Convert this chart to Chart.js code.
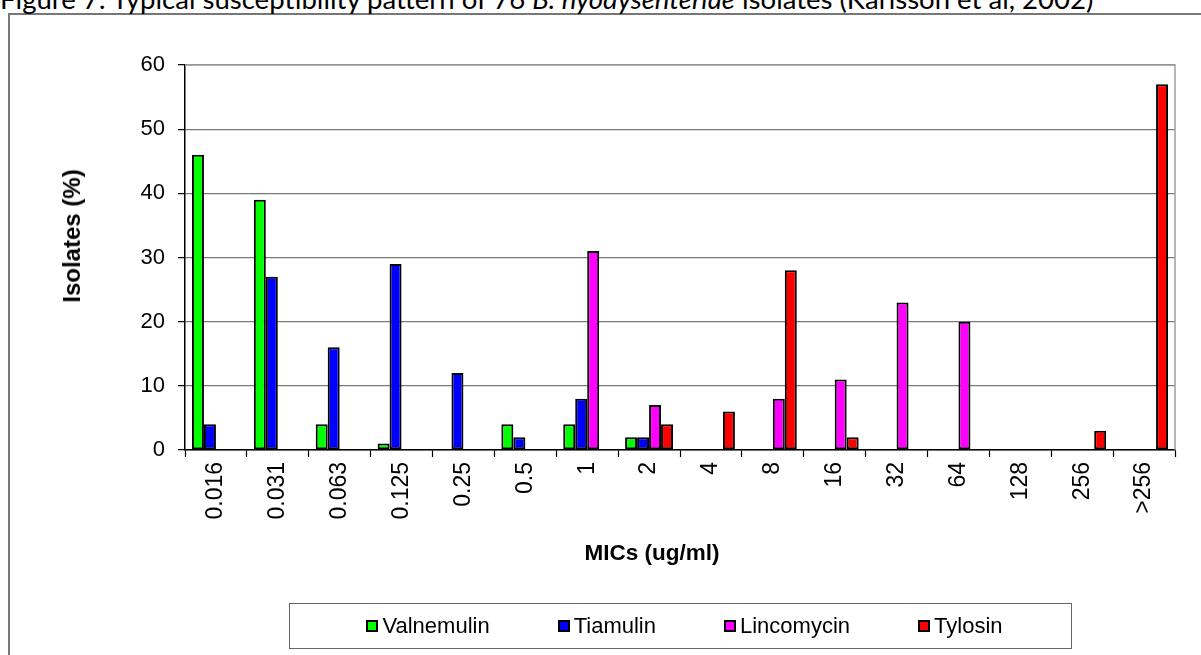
<!DOCTYPE html>
<html>
<head>
<meta charset="utf-8">
<script src="https://cdn.jsdelivr.net/npm/chart.js@4.4.1/dist/chart.umd.min.js"></script>
<style>
  html, body { margin:0; padding:0; background:#fff; width:1201px; height:655px; overflow:hidden; }
  #wrap { position:relative; width:1201px; height:655px; overflow:hidden; }
  #frame { position:absolute; left:8px; top:13px; width:1400px; height:1000px; border:2px solid #777; box-sizing:border-box; }
  #caption { position:absolute; left:0px; top:-12px; white-space:nowrap; font-family:Lato, 'Open Sans', sans-serif; font-size:22px; line-height:22px; color:#000; }
  canvas { position:absolute; left:0; top:0; }
  .axt { position:absolute; font-family:'Liberation Sans', Arial, sans-serif; font-weight:bold; line-height:26px; color:#000; white-space:nowrap; }
  #xtitle { left:652px; top:553px; font-size:22.5px; transform:translate(-50%,-50%); }
  #ytitle { left:72px; top:236px; font-size:24px; transform:translate(-50%,-50%) rotate(-90deg); }
  #legend { position:absolute; left:289px; top:603px; width:783px; height:46px; border:1.5px solid #666; box-sizing:border-box; display:flex; align-items:center; justify-content:center; gap:68px; padding-left:8px; font-family:'Liberation Sans', Arial, sans-serif; font-size:22px; color:#000; }
  .li { display:flex; align-items:center; }
  .sw { width:12px; height:12px; border:2px solid #000; box-sizing:border-box; margin-right:4px; }
</style>
</head>
<body>
<div id="wrap">
  <div id="frame"></div>
  <div id="caption">Figure 7: Typical susceptibility pattern of 76 <i>B. hyodysenteriae</i> isolates (Karlsson et al, 2002)</div>
  <canvas id="c" width="1201" height="655"></canvas>
  <div class="axt" id="ytitle">Isolates (%)</div>
  <div class="axt" id="xtitle">MICs (ug/ml)</div>
  <div id="legend"></div>
</div>
<script>
const categories = ['0.016','0.031','0.063','0.125','0.25','0.5','1','2','4','8','16','32','64','128','256','>256'];
const valnemulin = [46,39,4,1,0,4,4,2,0,0,0,0,0,0,0,0];
const tiamulin   = [4,27,16,29,12,2,8,2,0,0,0,0,0,0,0,0];
const lincomycin = [0,0,0,0,0,0,31,7,0,8,11,23,20,0,0,0];
const tylosin    = [0,0,0,0,0,0,0,4,6,28,2,0,0,0,3,57];
const yTicks = [0,10,20,30,40,50,60];

const seriesNames = ['Valnemulin','Tiamulin','Lincomycin','Tylosin'];
const seriesColors = ['#00FF00','#0000FF','#FF00FF','#FF0000'];
const seriesData = [valnemulin, tiamulin, lincomycin, tylosin];

// fit caption width
(function(){
  const cap = document.getElementById('caption');
  const target = 1094;
  const w = cap.getBoundingClientRect().width;
  const fs = 22 * target / w;
  cap.style.fontSize = fs.toFixed(2) + 'px';
  cap.style.lineHeight = fs.toFixed(2) + 'px';
  cap.style.top = (9 - 0.887*fs).toFixed(1) + 'px';
})();

const plotFrame = {
  id: 'plotFrame',
  afterDraw(chart) {
    const {ctx, chartArea:a} = chart;
    ctx.save();
    ctx.strokeStyle = '#a0a0a0';
    ctx.lineWidth = 1.5;
    ctx.beginPath();
    ctx.moveTo(a.left, a.top);
    ctx.lineTo(a.right, a.top);
    ctx.lineTo(a.right, a.bottom);
    ctx.stroke();
    ctx.restore();
  }
};

const chart = new Chart(document.getElementById('c'), {
  type: 'bar',
  data: {
    labels: categories,
    datasets: seriesNames.map((n,i) => ({
      label: n,
      data: seriesData[i],
      backgroundColor: seriesColors[i],
      borderColor: '#000',
      borderWidth: 2,
      borderSkipped: false,
      categoryPercentage: 0.775,
      barPercentage: 1.0
    }))
  },
  options: {
    responsive: false,
    animation: false,
    devicePixelRatio: 1,
    layout: { padding: { left: 0, top: 65, right: 26, bottom: 0 } },
    plugins: { legend: { display: false }, tooltip: { enabled: false }, title: { display: false } },
    scales: {
      x: {
        grid: { display: true, drawOnChartArea: false, drawTicks: true, tickLength: 7, tickColor: '#000', tickWidth: 1.2, offset: true },
        border: { display: true, color: '#000', width: 1.5 },
        ticks: { autoSkip: false, maxRotation: 90, minRotation: 90, padding: 5, color: '#000',
                 font: { family: "'Liberation Sans', Arial, sans-serif", size: 23 } },
        afterFit: s => { s.height = 205; }
      },
      y: {
        min: 0, max: 60,
        afterBuildTicks: s => { s.ticks = yTicks.map(v => ({ value: v })); },
        grid: { color: '#7a7a7a', lineWidth: 1.3, tickLength: 7, tickColor: '#000', tickWidth: 1.2 },
        border: { display: true, color: '#000', width: 1.5 },
        ticks: { padding: 13, color: '#000', font: { family: "'Liberation Sans', Arial, sans-serif", size: 22 } },
        afterFit: s => { s.width = 185; }
      }
    }
  },
  plugins: [plotFrame]
});

// legend built from chart datasets
const leg = document.getElementById('legend');
chart.data.datasets.forEach(ds => {
  const it = document.createElement('div'); it.className = 'li';
  const sw = document.createElement('div'); sw.className = 'sw'; sw.style.background = ds.backgroundColor;
  const tx = document.createElement('span'); tx.textContent = ds.label;
  it.appendChild(sw); it.appendChild(tx); leg.appendChild(it);
});
</script>
</body>
</html>
